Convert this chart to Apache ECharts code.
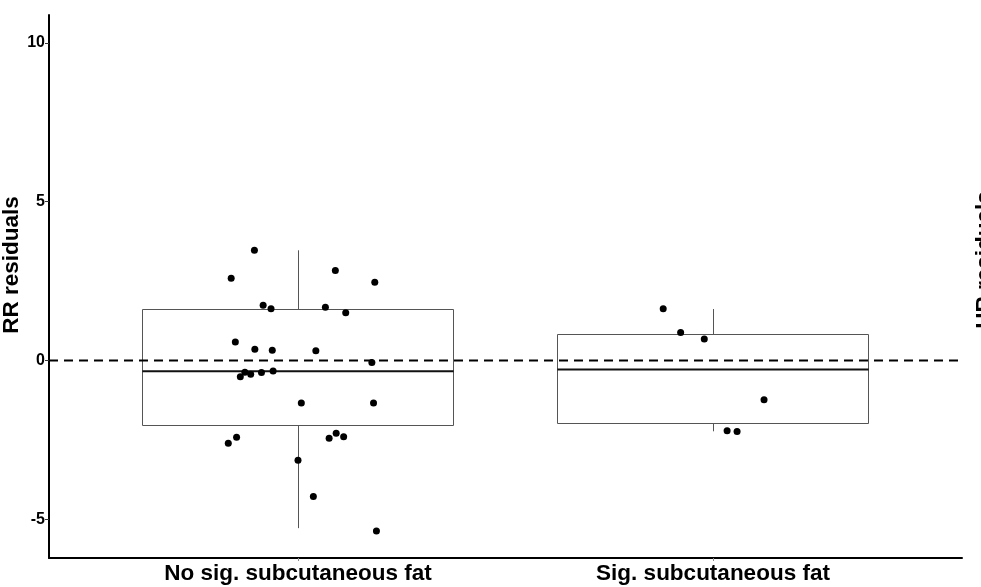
<!DOCTYPE html>
<html>
<head>
<meta charset="utf-8">
<script src="https://cdn.jsdelivr.net/npm/echarts@6/dist/echarts.min.js"></script>
<style>
  html, body { margin: 0; padding: 0; background: #fff; }
  #chart { width: 981px; height: 587px; }
</style>
</head>
<body>
<div id="chart"></div>
<script>
// groups on the x axis
var categories = ["No sig. subcutaneous fat", "Sig. subcutaneous fat"];

// box stats per group: [lower whisker, Q1, median, Q3, upper whisker]
var boxNoSig = [-5.28, -2.04, -0.34, 1.61, 3.47];
var boxSig = [-2.23, -1.96, -0.28, 0.83, 1.62];

// jittered residuals: [x position, residual]
var pointsNoSig = [
    [0.895, 3.47], [0.839, 2.59], [1.090, 2.83], [1.185, 2.46],
    [0.916, 1.74], [0.935, 1.63], [1.066, 1.68], [1.115, 1.50],
    [0.849, 0.58], [0.896, 0.35], [0.938, 0.32], [1.043, 0.31],
    [1.178, -0.06], [0.861, -0.51], [0.872, -0.37], [0.886, -0.43],
    [0.912, -0.38], [0.940, -0.33], [1.008, -1.34], [1.182, -1.34],
    [0.852, -2.42], [0.832, -2.61], [1.075, -2.45], [1.092, -2.29],
    [1.110, -2.40], [1.000, -3.14], [1.037, -4.28], [1.189, -5.37]
];
var pointsSig = [
    [1.880, 1.63], [1.922, 0.88], [1.979, 0.68],
    [2.123, -1.24], [2.034, -2.21], [2.058, -2.24]
];

var yTicks = [-5, 0, 5, 10];

var font = '"Liberation Sans", Arial, sans-serif';
var myChart = echarts.init(document.getElementById("chart"));

var boxData = [[1].concat(boxNoSig), [2].concat(boxSig)];

function renderBox(params, api) {
    var x = api.value(0);
    var lo = api.value(1), q1 = api.value(2), med = api.value(3), q3 = api.value(4), hi = api.value(5);
    var half = 0.375;
    var tl = api.coord([x - half, q3]);
    var br = api.coord([x + half, q1]);
    var mL = api.coord([x - half, med]);
    var mR = api.coord([x + half, med]);
    var top = api.coord([x, hi]);
    var bot = api.coord([x, lo]);
    var cx = Math.round(top[0]) + 0.5;
    var grey = { stroke: "#555", lineWidth: 1, fill: null };
    return {
        type: "group",
        children: [
            { type: "line", shape: { x1: cx, y1: top[1], x2: cx, y2: tl[1] }, style: grey },
            { type: "line", shape: { x1: cx, y1: br[1], x2: cx, y2: bot[1] }, style: grey },
            {
                type: "rect",
                shape: { x: Math.round(tl[0]) + 0.5, y: Math.round(tl[1]) + 0.5, width: Math.round(br[0] - tl[0]), height: Math.round(br[1] - tl[1]) },
                style: { fill: "#fff", stroke: "#555", lineWidth: 1 }
            },
            { type: "line", shape: { x1: mL[0], y1: mL[1], x2: mR[0], y2: mR[1] }, style: { stroke: "#111", lineWidth: 2 } }
        ]
    };
}

var option = {
    animation: false,
    backgroundColor: "#fff",
    grid: { left: 49, right: 19, top: 15, bottom: 29, containLabel: false, outerBoundsMode: "none" },
    xAxis: {
        type: "value",
        min: 0.4,
        max: 2.6,
        axisLine: { show: true, onZero: false, lineStyle: { color: "#000", width: 2 } },
        axisTick: { show: true, customValues: [1, 2], length: 3, lineStyle: { color: "#888" } },
        axisLabel: {
            customValues: [1, 2],
            formatter: function (v) { return categories[Math.round(v) - 1]; },
            color: "#000", fontSize: 22.5, fontWeight: "bold", fontFamily: font, margin: 4
        },
        splitLine: { show: false }
    },
    yAxis: {
        type: "value",
        min: -6.22,
        max: 10.88,
        axisLine: { show: true, onZero: false, lineStyle: { color: "#000", width: 2 } },
        axisTick: { show: true, customValues: yTicks, length: 4, lineStyle: { color: "#333" } },
        axisLabel: {
            customValues: yTicks,
            color: "#000", fontSize: 16, fontWeight: "bold", fontFamily: font, margin: 4
        },
        splitLine: { show: false }
    },
    graphic: [
        {
            type: "text", x: 11.5, y: 265, rotation: Math.PI / 2,
            style: { text: "RR residuals", fontSize: 22.5, fontWeight: "bold", fontFamily: font, fill: "#000", align: "center", verticalAlign: "middle" }
        },
        {
            // next panel's title, cut off by the right edge
            type: "text", x: 985, y: 260, rotation: Math.PI / 2,
            style: { text: "HR residuals", fontSize: 22.5, fontWeight: "bold", fontFamily: font, fill: "#000", align: "center", verticalAlign: "middle" }
        }
    ],
    series: [
        {
            type: "custom",
            renderItem: renderBox,
            data: boxData,
            encode: { x: 0, y: [1, 2, 3, 4, 5] },
            z: 1
        },
        {
            type: "line",
            data: [[0.4, 0], [2.6, 0]],
            symbol: "none",
            lineStyle: { color: "#000", width: 2, type: [9, 6] },
            z: 2
        },
        {
            type: "scatter",
            data: pointsNoSig.concat(pointsSig),
            symbolSize: 7,
            itemStyle: { color: "#000", opacity: 1 },
            z: 3
        }
    ]
};

myChart.setOption(option);
</script>
</body>
</html>
